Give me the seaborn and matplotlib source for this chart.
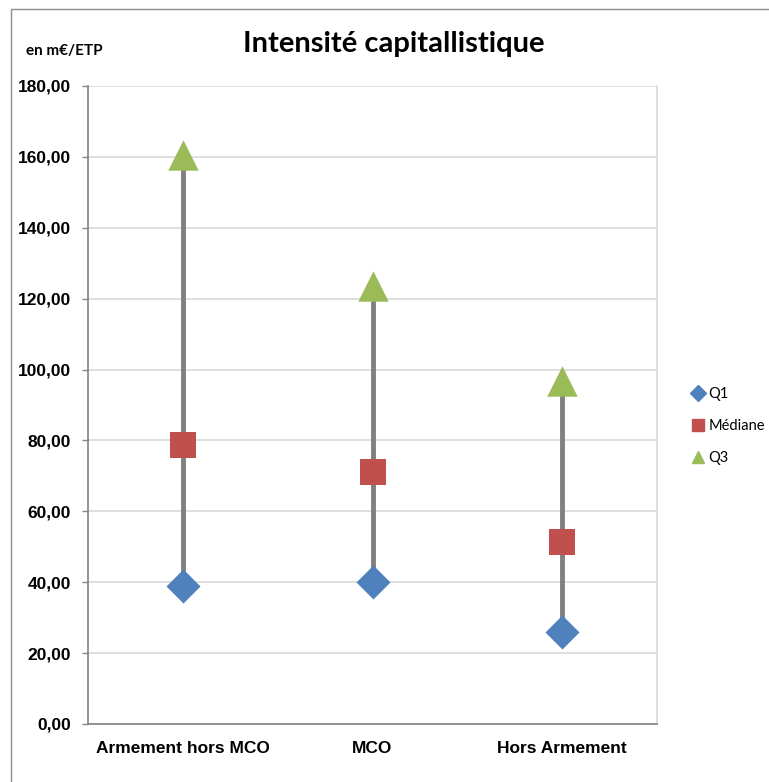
import pandas as pd
import matplotlib.pyplot as plt
import seaborn as sns
from matplotlib.patches import Rectangle
from matplotlib.ticker import FuncFormatter

# Data
categories = ['Armement hors MCO', 'MCO', 'Hors Armement']
q1 = [38.9, 40.1, 26.0]
mediane = [78.7, 71.1, 51.4]
q3 = [160.6, 123.7, 96.9]
series_names = ['Q1', 'Médiane', 'Q3']

long_df = pd.DataFrame({
    'categorie': categories * 3,
    'valeur': q1 + mediane + q3,
    'serie': [s for s in series_names for _ in categories],
})
long_df['pos'] = long_df['categorie'].map({c: i for i, c in enumerate(categories)})

sns.set_theme(style="white")
plt.rcParams['font.family'] = ['Liberation Sans', 'DejaVu Sans']
plt.rcParams['text.color'] = 'black'

fig = plt.figure(figsize=(7.69, 7.82), dpi=100)
ax = fig.add_axes([88 / 769, 58 / 782, 569 / 769, 638 / 782])

# outer chart border
fig.patches.append(Rectangle((11 / 769, 1 - 9 / 782), 2, -2, transform=fig.transFigure,
                             fill=False, edgecolor='#8c8c8c', linewidth=1.0))

# high-low lines
ax.vlines(range(len(categories)), q1, q3, color='#808080', linewidth=3.5, zorder=2)

palette = {'Q1': '#4F81BD', 'Médiane': '#C0504D', 'Q3': '#9BBB59'}
markers = {'Q1': 'D', 'Médiane': 's', 'Q3': '^'}
sizes = {'Q1': 300, 'Médiane': 330, 'Q3': 480}
for name in series_names:
    sub = long_df[long_df['serie'] == name]
    sns.scatterplot(data=sub, x='pos', y='valeur', color=palette[name], marker=markers[name],
                    s=sizes[name], linewidth=0, ax=ax, zorder=3, label=name, legend=False)

ax.set_xlim(-0.5, 2.5)
ax.set_ylim(0, 180)
ax.set_yticks(range(0, 181, 20))
ax.yaxis.set_major_formatter(FuncFormatter(lambda v, p: f'{v:.2f}'.replace('.', ',')))
ax.set_xticks(range(len(categories)))
ax.set_xticklabels(categories)
ax.set_xticks([-0.5, 0.5, 1.5, 2.5], minor=True)
ax.tick_params(axis='x', which='major', length=0, pad=12)
ax.tick_params(axis='x', which='minor', length=4.5, color='#868686', width=1)
ax.tick_params(axis='y', length=4.5, color='#868686', width=1, left=True, pad=8)
for lab in ax.get_xticklabels() + ax.get_yticklabels():
    lab.set_fontweight('bold')
    lab.set_fontsize(12.5)
    lab.set_color('black')

ax.grid(axis='y', color='#d9d9d9', linewidth=1.2)
ax.set_axisbelow(True)
ax.spines['left'].set_color('#868686')
ax.spines['bottom'].set_color('#868686')
ax.spines['top'].set_visible(False)
ax.spines['right'].set_color('#d9d9d9')
ax.spines['right'].set_linewidth(1.2)
ax.set_xlabel('')
ax.set_ylabel('')

fig.text(394 / 769, 1 - 44 / 782, 'Intensité capitallistique', ha='center', va='center',
         fontsize=21, fontweight='bold', color='black', family=['Lato', 'DejaVu Sans'])
fig.text(26 / 769, 1 - 51 / 782, 'en m€/ETP', ha='left', va='center',
         fontsize=11, fontweight='bold', color='black', family=['Lato', 'DejaVu Sans'])

handles = [plt.Line2D([], [], linestyle='', marker=markers[n], color=palette[n],
                      markersize={'Q1': 8, 'Médiane': 9, 'Q3': 9}[n]) for n in series_names]
fig.legend(handles, series_names, loc='center left', bbox_to_anchor=(675 / 769, 1 - 426 / 782),
           frameon=False, handletextpad=0.0, labelspacing=1.25, handlelength=1.4,
           labelcolor='black', prop={'family': ['Lato', 'DejaVu Sans'], 'size': 10.5})

fig.savefig('out.png', dpi=100)
